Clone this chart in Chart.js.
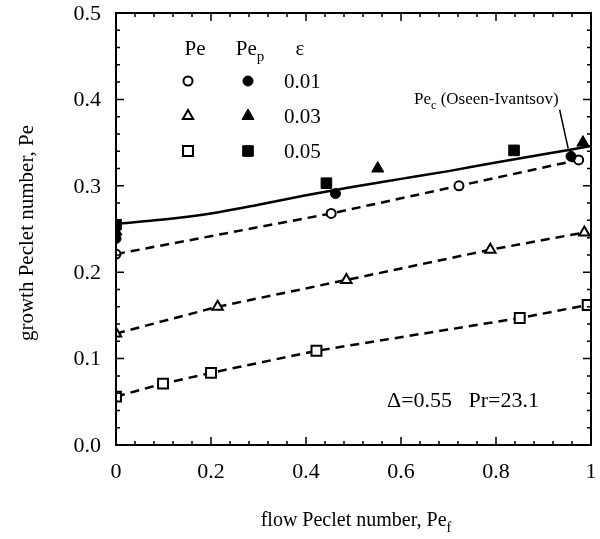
<!DOCTYPE html>
<html>
<head>
<meta charset="utf-8">
<script src="https://cdn.jsdelivr.net/npm/chart.js@4.4.0/dist/chart.umd.min.js"></script>
<style>
    html, body { margin: 0; padding: 0; background: #fff; }
    #wrap { width: 600px; height: 539px; }
</style>
</head>
<body>
<div id="wrap"><canvas id="pe-chart" width="600" height="539"></canvas></div>
<script>
// ── Data ──
// open symbols: measured Pe ; filled symbols: predicted Pe_p
const circX  = [0, 0.453, 0.722, 0.974];
const circY  = [0.221, 0.268, 0.300, 0.330];
const circFX = [0, 0.462, 0.958];
const circFY = [0.239, 0.291, 0.334];

const triX  = [0, 0.214, 0.485, 0.788, 0.986];
const triY  = [0.129, 0.160, 0.191, 0.226, 0.246];
const triFX = [0, 0.551, 0.983];
const triFY = [0.247, 0.320, 0.350];

const sqX  = [0, 0.099, 0.200, 0.422, 0.850, 0.993];
const sqY  = [0.056, 0.071, 0.0835, 0.109, 0.147, 0.162];
const sqFX = [0, 0.443, 0.838];
const sqFY = [0.255, 0.303, 0.341];

// Pe_c (Oseen-Ivantsov) curve
const curveX = [0, 0.1, 0.2, 0.3, 0.4, 0.5, 0.6, 0.7, 0.8, 0.9, 1.0];
const curveY = [0.256, 0.261, 0.268, 0.278, 0.289, 0.299, 0.308, 0.317, 0.327, 0.3365, 0.346];

// leader line from the curve label
const leaderX = [0.934, 0.952];
const leaderY = [0.388, 0.343];

// ── Ticks ──
const xTicks      = [0, 0.2, 0.4, 0.6, 0.8, 1];
const xTickLabels = ['0', '0.2', '0.4', '0.6', '0.8', '1'];
const yTicks      = [0, 0.1, 0.2, 0.3, 0.4, 0.5];
const yTickLabels = ['0.0', '0.1', '0.2', '0.3', '0.4', '0.5'];
const xMinorStep  = 0.04;
const yMinorStep  = 0.02;

const SERIF = '"Liberation Serif", "DejaVu Serif", serif';

const pts = (xs, ys) => xs.map((x, i) => ({ x, y: ys[i] }));

// ── Symbol styles ──
const SYM = {
    circ:  { pointStyle: 'circle',   radius: 4.5, fill: '#fff', bw: 2   },
    circF: { pointStyle: 'circle',   radius: 5,   fill: '#000', bw: 1   },
    tri:   { pointStyle: 'triangle', radius: 6,   fill: '#fff', bw: 2   },
    triF:  { pointStyle: 'triangle', radius: 7,   fill: '#000', bw: 1   },
    sq:    { pointStyle: 'rect',     radius: 7,   fill: '#fff', bw: 2   },
    sqF:   { pointStyle: 'rect',     radius: 7.5, fill: '#000', bw: 1   },
};

function markerSet(xs, ys, s, dashed) {
    return {
        data: pts(xs, ys),
        showLine: !!dashed,
        borderColor: '#000',
        borderWidth: 2.5,
        borderDash: dashed ? [9, 6] : [],
        pointStyle: s.pointStyle,
        pointRadius: s.radius,
        pointBackgroundColor: s.fill,
        pointBorderColor: '#000',
        pointBorderWidth: s.bw,
        fill: false,
        tension: 0,
    };
}

// ─────────────────────────────────────────────
//  Decorations: frame, inward ticks, labels, legend, texts
// ─────────────────────────────────────────────
function textWithSub(ctx, main, sub, x, y, size, align) {
    ctx.font = `${size}px ${SERIF}`;
    const wMain = ctx.measureText(main).width;
    ctx.font = `${size * 0.72}px ${SERIF}`;
    const wSub = ctx.measureText(sub).width;
    const total = wMain + wSub;
    let x0 = x;
    if (align === 'center') x0 = x - total / 2;
    if (align === 'right')  x0 = x - total;
    ctx.textAlign = 'left';
    ctx.textBaseline = 'alphabetic';
    ctx.font = `${size}px ${SERIF}`;
    ctx.fillText(main, x0, y);
    ctx.font = `${size * 0.72}px ${SERIF}`;
    ctx.fillText(sub, x0 + wMain, y + size * 0.28);
    return x0 + total;
}

const decor = {
    id: 'decor',
    afterDraw(chart) {
        const { ctx, chartArea: a, scales: { x, y } } = chart;
        ctx.save();
        ctx.strokeStyle = '#000';
        ctx.fillStyle = '#000';

        // frame
        ctx.lineWidth = 2;
        ctx.strokeRect(a.left, a.top, a.right - a.left, a.bottom - a.top);

        // inward ticks on all four sides
        ctx.lineWidth = 1.5;
        ctx.beginPath();
        for (let i = 0; i <= Math.round(1 / xMinorStep); i++) {
            const px = x.getPixelForValue(i * xMinorStep);
            const len = i % 5 === 0 ? 8 : 4;
            ctx.moveTo(px, a.bottom); ctx.lineTo(px, a.bottom - len);
            ctx.moveTo(px, a.top);    ctx.lineTo(px, a.top + len);
        }
        for (let i = 0; i <= Math.round(0.5 / yMinorStep); i++) {
            const py = y.getPixelForValue(i * yMinorStep);
            const len = i % 5 === 0 ? 8 : 4;
            ctx.moveTo(a.left, py);  ctx.lineTo(a.left + len, py);
            ctx.moveTo(a.right, py); ctx.lineTo(a.right - len, py);
        }
        ctx.stroke();

        // tick labels
        ctx.font = `22px ${SERIF}`;
        ctx.textAlign = 'center';
        ctx.textBaseline = 'middle';
        xTicks.forEach((v, i) => ctx.fillText(xTickLabels[i], x.getPixelForValue(v), a.bottom + 27));
        ctx.textAlign = 'right';
        yTicks.forEach((v, i) => ctx.fillText(yTickLabels[i], a.left - 15, y.getPixelForValue(v) + 1));

        // legend header
        ctx.textBaseline = 'alphabetic';
        ctx.textAlign = 'center';
        ctx.font = `21px ${SERIF}`;
        ctx.fillText('Pe', 195, 55);
        textWithSub(ctx, 'Pe', 'p', 250, 55, 21, 'center');
        ctx.textAlign = 'center';
        ctx.font = `21px ${SERIF}`;
        ctx.fillText('ε', 300, 55);

        // legend rows
        const rows = [
            { open: SYM.circ, filled: SYM.circF, label: '0.01', y: 81  },
            { open: SYM.tri,  filled: SYM.triF,  label: '0.03', y: 116 },
            { open: SYM.sq,   filled: SYM.sqF,   label: '0.05', y: 151 },
        ];
        rows.forEach(r => {
            [[r.open, 188], [r.filled, 248]].forEach(([s, px]) => {
                ctx.fillStyle = s.fill;
                ctx.strokeStyle = '#000';
                ctx.lineWidth = s.bw;
                Chart.helpers.drawPoint(ctx, {
                    pointStyle: s.pointStyle, radius: s.radius, rotation: 0, borderWidth: s.bw,
                }, px, r.y);
            });
            ctx.fillStyle = '#000';
            ctx.textAlign = 'left';
            ctx.textBaseline = 'middle';
            ctx.font = `21px ${SERIF}`;
            ctx.fillText(r.label, 284, r.y + 1);
        });

        // curve label, right end just above the leader line
        ctx.fillStyle = '#000';
        const rest = ' (Oseen-Ivantsov)';
        ctx.font = `17px ${SERIF}`;
        const wRest = ctx.measureText(rest).width;
        ctx.font = `17px ${SERIF}`;
        const wPe = ctx.measureText('Pe').width;
        ctx.font = `${17 * 0.72}px ${SERIF}`;
        const wC = ctx.measureText('c').width;
        const labelRight = x.getPixelForValue(leaderX[0]) - 1;
        const xe = textWithSub(ctx, 'Pe', 'c', labelRight - wRest - wPe - wC, 104, 17, 'left');
        ctx.font = `17px ${SERIF}`;
        ctx.textAlign = 'left';
        ctx.textBaseline = 'alphabetic';
        ctx.fillText(rest, xe, 104);

        // parameters
        ctx.font = `22px ${SERIF}`;
        ctx.textAlign = 'left';
        ctx.textBaseline = 'middle';
        ctx.fillText('Δ=0.55   Pr=23.1', 387, 401);

        // axis titles
        textWithSub(ctx, 'flow Peclet number, Pe', 'f', 356, 526, 20, 'center');
        ctx.save();
        ctx.translate(27, 233);
        ctx.rotate(-Math.PI / 2);
        ctx.textAlign = 'center';
        ctx.textBaseline = 'middle';
        ctx.font = `21px ${SERIF}`;
        ctx.fillText('growth Peclet number, Pe', 0, 0);
        ctx.restore();

        ctx.restore();
    },
};

// ─────────────────────────────────────────────
//  Chart
// ─────────────────────────────────────────────
new Chart(document.getElementById('pe-chart'), {
    type: 'scatter',
    data: {
        datasets: [
            markerSet(circFX, circFY, SYM.circF, false),
            markerSet(triFX,  triFY,  SYM.triF,  false),
            markerSet(sqFX,   sqFY,   SYM.sqF,   false),
            markerSet(circX,  circY,  SYM.circ,  true),
            markerSet(triX,   triY,   SYM.tri,   true),
            markerSet(sqX,    sqY,    SYM.sq,    true),
            {
                data: pts(curveX, curveY),
                showLine: true,
                borderColor: '#000',
                borderWidth: 2.5,
                pointRadius: 0,
                cubicInterpolationMode: 'monotone',
                fill: false,
            },
            {
                data: pts(leaderX, leaderY),
                showLine: true,
                borderColor: '#000',
                borderWidth: 1.5,
                pointRadius: 0,
                fill: false,
            },
        ],
    },
    options: {
        responsive: false,
        animation: false,
        devicePixelRatio: 1,
        layout: { padding: { top: 13, right: 5, left: 0, bottom: 0 } },
        plugins: { legend: { display: false }, tooltip: { enabled: false } },
        scales: {
            x: {
                type: 'linear', min: 0, max: 1,
                afterFit: s => { s.height = 539 - 13 - 432; },
                grid: { display: false, drawTicks: false },
                border: { display: false },
                ticks: { display: false },
            },
            y: {
                type: 'linear', min: 0, max: 0.5,
                afterFit: s => { s.width = 116; },
                grid: { display: false, drawTicks: false },
                border: { display: false },
                ticks: { display: false },
            },
        },
    },
    plugins: [decor],
});
</script>
</body>
</html>
